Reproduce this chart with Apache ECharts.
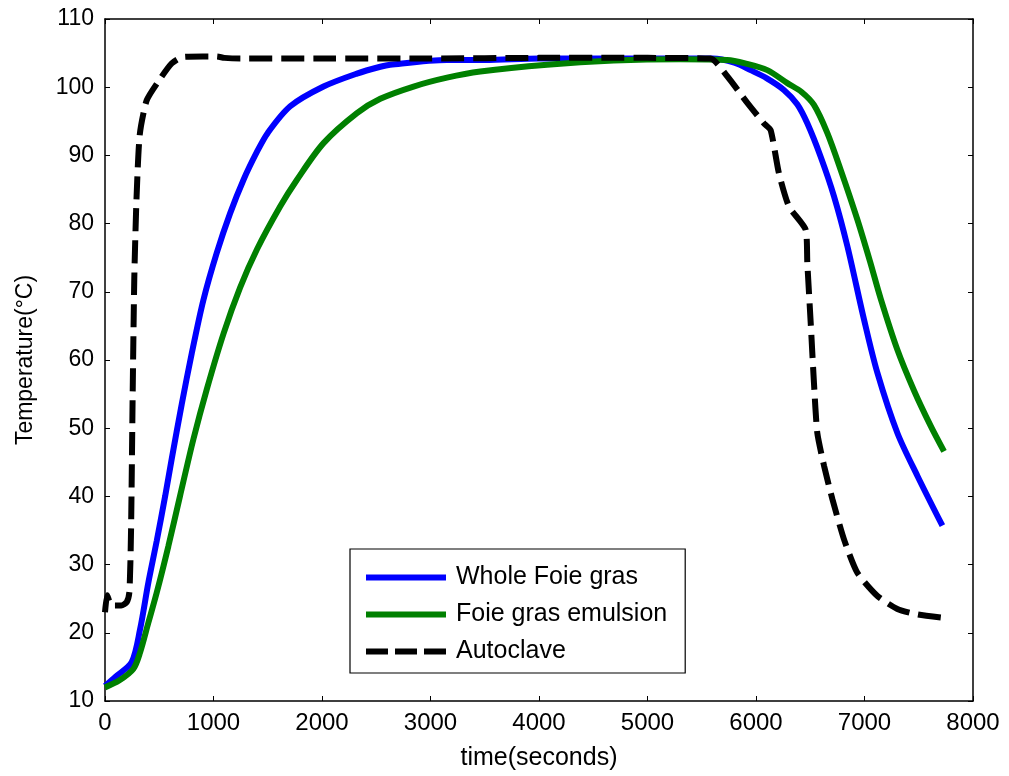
<!DOCTYPE html>
<html>
<head>
<meta charset="utf-8">
<script src="https://cdn.jsdelivr.net/npm/echarts@6/dist/echarts.min.js"></script>
<style>html,body{margin:0;padding:0;background:#fff}#c{width:1009px;height:776px}</style>
</head>
<body>
<div id="c"></div>
<script>
const seriesNames = ['Whole Foie gras', 'Foie gras emulsion', 'Autoclave'];
const xTicks = [0, 1000, 2000, 3000, 4000, 5000, 6000, 7000, 8000];
const yTicks = [10, 20, 30, 40, 50, 60, 70, 80, 90, 100, 110];

const wholeTime = [0, 100, 246, 323, 400, 477, 554, 615, 707, 800, 907, 1030, 1153, 1276, 1400, 1500, 1707, 2014, 2322, 2537, 2629, 3152, 3500, 4000, 5000, 5600, 5800, 5950, 6100, 6257, 6380, 6473, 6596, 6719, 6842, 6996, 7119, 7303, 7488, 7718];
const wholeTemp = [12.2, 13.6, 15.7, 20.5, 27.4, 33.5, 40.0, 45.5, 53.5, 61.0, 68.8, 75.7, 81.5, 86.4, 90.5, 93.3, 97.2, 100.1, 102.0, 103.0, 103.3, 104.0, 104.0, 104.2, 104.2, 104.2, 103.6, 102.5, 101.3, 99.6, 97.5, 94.7, 89.8, 84.0, 76.7, 65.9, 58.1, 49.3, 43.0, 35.7];

const emulsionTime = [0, 130, 261, 323, 400, 477, 584, 692, 815, 938, 1091, 1245, 1400, 1614, 1768, 2014, 2322, 2537, 2844, 3152, 3459, 4074, 4689, 5300, 5735, 5900, 6104, 6289, 6420, 6534, 6657, 6780, 6934, 7050, 7149, 7303, 7457, 7611, 7733];
const emulsionTemp = [12.0, 13.0, 14.7, 17.1, 21.5, 25.9, 32.7, 40.1, 48.4, 55.7, 63.8, 70.6, 76.2, 82.5, 86.4, 91.8, 96.2, 98.3, 100.1, 101.4, 102.3, 103.3, 103.9, 104.1, 104.0, 103.5, 102.5, 100.6, 99.3, 97.4, 93.3, 87.9, 80.6, 74.5, 69.0, 61.5, 55.5, 50.3, 46.6];

const autoclaveTime = [0, 20, 60, 150, 200, 225, 240, 255, 270, 290, 320, 385, 520, 615, 710, 900, 1030, 1100, 1250, 2000, 3000, 4000, 5000, 5580, 5735, 5920, 6073, 6135, 6211, 6304, 6458, 6473, 6504, 6534, 6565, 6627, 6704, 6811, 6934, 7119, 7303, 7488, 7703];
const autoclaveTemp = [23.0, 25.5, 24.0, 24.0, 24.5, 26.0, 35.0, 55.0, 72.0, 83.5, 93.0, 98.1, 101.5, 103.5, 104.4, 104.5, 104.5, 104.3, 104.2, 104.2, 104.2, 104.3, 104.3, 104.2, 101.6, 97.7, 94.7, 93.7, 87.4, 82.5, 79.1, 74.2, 65.5, 56.7, 49.3, 44.5, 39.6, 33.7, 28.8, 25.4, 23.5, 22.7, 22.25];

function pairs(t, v) { return t.map((x, i) => [x, v[i]]); }

const FONT = '"Liberation Sans", Arial, sans-serif';
const chart = echarts.init(document.getElementById('c'), null, {renderer: 'canvas'});

const axisCommon = {
  axisLine: {show: true, onZero: false, lineStyle: {color: '#000', width: 1.5}},
  axisTick: {show: true, inside: true, length: 5, lineStyle: {color: '#000', width: 1}},
  splitLine: {show: false}
};

const solidIcon = 'path://M0,0H80V6H0Z';
const dashIcon = 'path://M0,0H22V6H0Z M29,0H51V6H29Z M58,0H80V6H58Z';

chart.setOption({
  animation: false,
  backgroundColor: '#fff',
  grid: {left: 105, right: 36, top: 19, bottom: 74, containLabel: false},
  xAxis: [
    Object.assign({
      type: 'value', min: xTicks[0], max: xTicks[xTicks.length - 1], interval: 1000,
      name: 'time(seconds)', nameLocation: 'middle', nameGap: 45,
      nameTextStyle: {color: '#000', fontSize: 25, fontFamily: FONT},
      axisLabel: {color: '#000', fontSize: 24, fontFamily: FONT, margin: 10, formatter: v => String(v)}
    }, axisCommon),
    Object.assign({
      type: 'value', position: 'top', min: xTicks[0], max: xTicks[xTicks.length - 1], interval: 1000,
      axisLabel: {show: false}
    }, axisCommon)
  ],
  yAxis: [
    Object.assign({
      type: 'value', min: yTicks[0], max: yTicks[yTicks.length - 1], interval: 10,
      name: 'Temperature(°C)', nameLocation: 'middle', nameGap: 68, nameRotate: 90,
      nameTextStyle: {color: '#000', fontSize: 23, fontFamily: FONT},
      axisLabel: {color: '#000', fontSize: 23, fontFamily: FONT, margin: 11}
    }, axisCommon),
    Object.assign({
      type: 'value', position: 'right', min: yTicks[0], max: yTicks[yTicks.length - 1], interval: 10,
      axisLabel: {show: false}
    }, axisCommon)
  ],
  legend: {
    orient: 'vertical', left: 350, top: 549,
    backgroundColor: '#fff', borderColor: '#000', borderWidth: 1.2,
    padding: [16, 18, 9, 16],
    itemWidth: 80, itemHeight: 6, itemGap: 12,
    textStyle: {color: '#000', fontSize: 25, fontFamily: FONT, lineHeight: 25, padding: [0, 0, 0, 5]},
    data: [
      {name: seriesNames[0], icon: solidIcon},
      {name: seriesNames[1], icon: solidIcon},
      {name: seriesNames[2], icon: dashIcon}
    ]
  },
  series: [
    {name: seriesNames[0], type: 'line', data: pairs(wholeTime, wholeTemp), symbol: 'none', smooth: 0.3,
     lineStyle: {color: '#0000ff', width: 6}, itemStyle: {color: '#0000ff'}},
    {name: seriesNames[1], type: 'line', data: pairs(emulsionTime, emulsionTemp), symbol: 'none', smooth: 0.3,
     lineStyle: {color: '#008000', width: 6}, itemStyle: {color: '#008000'}},
    {name: seriesNames[2], type: 'line', data: pairs(autoclaveTime, autoclaveTemp), symbol: 'none', smooth: 0.2,
     lineStyle: {color: '#000', width: 6, type: [23, 9], cap: 'butt'}, itemStyle: {color: '#000'}, z: 3}
  ]
});
</script>
</body>
</html>
